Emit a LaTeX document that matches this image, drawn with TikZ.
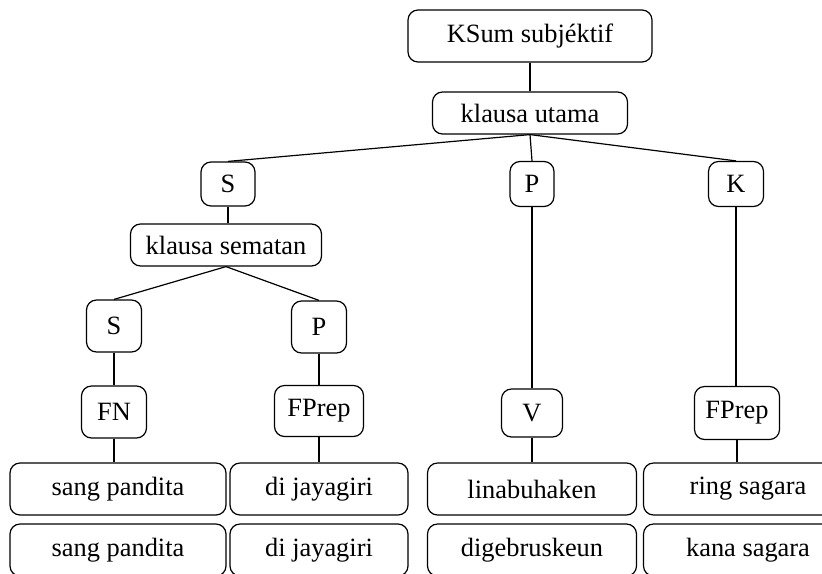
\documentclass[tikz,border=0pt]{standalone}
\usepackage{fontspec}
\setmainfont{Liberation Serif}

\tikzset{box/.style={draw,rounded corners=5pt,line width=0.6pt,inner sep=0pt}}

\begin{document}
\begin{tikzpicture}[x=0.5pt,y=-0.5pt,line width=0.6pt,font=\fontsize{13.2}{15}\selectfont]
\useasboundingbox (0,0) rectangle (822,573);

    \node[box,minimum width=122pt,minimum height=26pt]   (ksum)    at (530,36)  {KSum subjéktif};
    \node[box,minimum width=97.5pt,minimum height=21pt]  (utama)   at (530,113) {klausa utama};
    \node[box,minimum width=27pt,minimum height=22pt]    (s)       at (228,184) {S};
    \node[box,minimum width=22pt,minimum height=22.5pt]  (p)       at (532,184) {P};
    \node[box,minimum width=27.5pt,minimum height=22.5pt] (k)      at (736,184) {K};
    \node[box,minimum width=95.5pt,minimum height=21pt]  (sematan) at (226,245) {klausa sematan};
    \node[box,minimum width=27.5pt,minimum height=26pt]  (s2)      at (114,326) {S};
    \node[box,minimum width=27.5pt,minimum height=26pt]  (p2)      at (319,327) {P};
    \node[box,minimum width=32.5pt,minimum height=26pt]  (fn)      at (114,412) {FN};
    \node[box,minimum width=44.5pt,minimum height=25.5pt] (fprepa) at (319,411) {FPrep};
    \node[box,minimum width=30.5pt,minimum height=24pt]  (v)       at (532,413) {V};
    \node[box,minimum width=42.5pt,minimum height=26.5pt] (fprepb) at (737,413) {FPrep};

    % baris kahiji
    \node[box,minimum width=108pt,minimum height=26pt]   (sanga)   at (118,489) {sang pandita};
    \node[box,minimum width=89pt,minimum height=26pt]    (dija)    at (319,489) {di jayagiri};
    \node[box,minimum width=104.5pt,minimum height=26pt] (linab)   at (532,489) {linabuhaken};
    \node[box,minimum width=104.5pt,minimum height=26pt] (ring)    at (748,489) {ring sagara};
    % baris kadua
    \node[box,minimum width=108pt,minimum height=26pt]   (sangb)   at (118,550) {sang pandita};
    \node[box,minimum width=89pt,minimum height=26pt]    (dijb)    at (319,550) {di jayagiri};
    \node[box,minimum width=104.5pt,minimum height=26pt] (digeb)   at (532,550) {digebruskeun};
    \node[box,minimum width=104.5pt,minimum height=26pt] (kana)    at (748,550) {kana sagara};

  \path (ksum.south)    edge (utama.north)
        (utama.south)   edge (s.north)
        (utama.south)   edge (p.north)
        (utama.south)   edge (k.north)
        (s.south)       edge (s.south |- sematan.north)
        (sematan.south) edge (s2.north)
        (sematan.south) edge (p2.north)
        (s2.south)      edge (fn.north)
        (p2.south)      edge (fprepa.north)
        (fn.south)      edge (fn.south |- sanga.north)
        (fprepa.south)  edge (dija.north)
        (p.south)       edge (v.north)
        (v.south)       edge (linab.north)
        (k.south)       edge (k.south |- fprepb.north)
        (fprepb.south)  edge (ring.north -| fprepb.south)
        ;
\end{tikzpicture}
\end{document}
